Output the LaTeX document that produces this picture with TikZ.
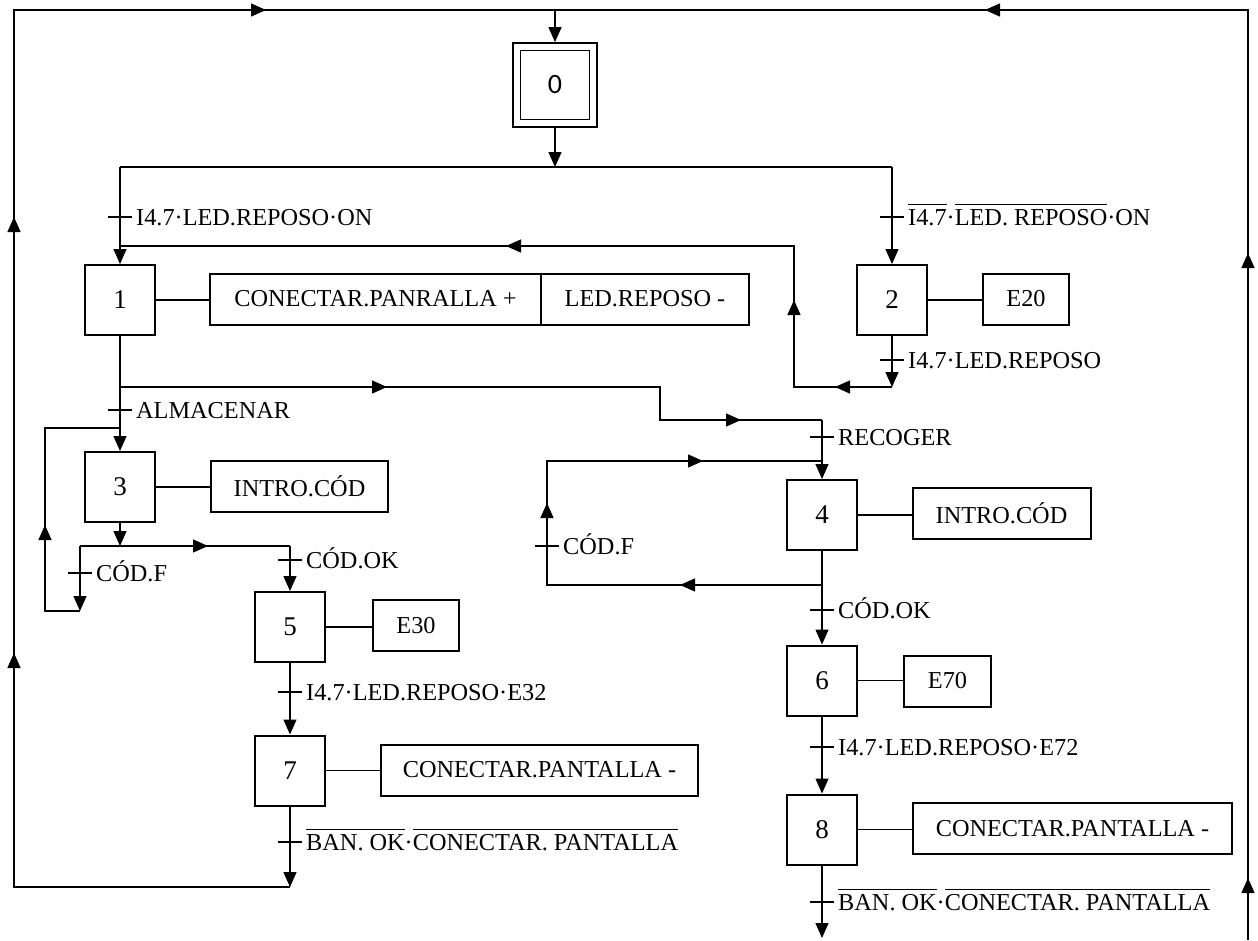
\documentclass[tikz,border=0pt]{standalone}
\usepackage{fontspec}
\setmainfont{Liberation Serif}
\newfontfamily\zerofont{Carlito}
\usetikzlibrary{arrows.meta,decorations.markings,calc}

\newcommand\ovl[1]{\vbox{\hrule height 0.9pt\kern 4pt\hbox{#1}}}

\tikzset{
  >={Triangle[length=15pt,width=13pt]},
  conn/.style={line width=1.3pt},
  stepbox/.style={draw, line width=2pt, minimum width=70pt, minimum height=70pt, inner sep=0pt, font=\fontsize{27}{31}\selectfont},
  actbox/.style={draw, line width=2pt, minimum height=51pt, inner sep=0pt, font=\fontsize{24.3}{28}\selectfont},
  lbl/.style={anchor=base west, inner sep=0pt, font=\fontsize{24.3}{28}\selectfont},
  tickline/.style={line width=1.3pt},
  arrowat/.style={postaction={decorate,decoration={markings,mark=at position #1 with {\arrow{>}}}}},
}

\newcommand\trans[4]{%
  \coordinate (#1) at (#2,#3);
  \draw[tickline] ($(#1)+(-12,0)$) -- ($(#1)+(12,0)$);
  \node[lbl] (#1l) at ($(#1)+(16,8)$) {#4};}

\begin{document}
\begin{tikzpicture}[x=1pt,y=-1pt]
\fill[white] (0,0) rectangle (1258,940);
\useasboundingbox (0,0) rectangle (1258,940);

% steps
\node[draw, line width=1.8pt, minimum size=84pt, inner sep=0pt] (s0) at (555,85) {};
\node[draw, line width=1.8pt, minimum size=69pt, inner sep=0pt, font=\zerofont\fontsize{28}{32}\selectfont] (s0i) at (s0.center) {0};
\node[stepbox] (s1) at (120,300) {1};
\node[stepbox] (s2) at (892,300) {2};
\node[stepbox] (s3) at (120,487) {3};
\node[stepbox] (s4) at (822,515) {4};
\node[stepbox] (s5) at (290,627) {5};
\node[stepbox] (s6) at (822,680.5) {6};
\node[stepbox] (s7) at (290,770.5) {7};
\node[stepbox] (s8) at (822,829.5) {8};

% actions
\node[actbox, minimum width=331pt] (a1a) at (375.5,299) {CONECTAR.PANRALLA +};
\node[actbox, minimum width=208pt] (a1b) at (645,299) {LED.REPOSO -};
\node[actbox, minimum width=86pt] (a2) at (1026,299) {E20};
\node[actbox, minimum width=177pt] (a3) at (299.5,486.5) {INTRO.CÓD};
\node[actbox, minimum width=178pt] (a4) at (1001.5,513.5) {INTRO.CÓD};
\node[actbox, minimum width=86pt] (a5) at (416,625.5) {E30};
\node[actbox, minimum width=87pt] (a6) at (947.5,681) {E70};
\node[actbox, minimum width=317pt] (a7) at (539.5,770) {CONECTAR.PANTALLA -};
\node[actbox, minimum width=319pt] (a8) at (1072.5,828.5) {CONECTAR.PANTALLA -};

\draw[conn] (s1.east) -- (s1.east -| a1a.west);
\draw[conn] (s2.east) -- (s2.east -| a2.west);
\draw[conn] (s3.east) -- (s3.east -| a3.west);
\draw[conn] (s4.east) -- (s4.east -| a4.west);
\draw[conn] (s5.east) -- (s5.east -| a5.west);
\draw[conn] (s6.east) -- (s6.east -| a6.west);
\draw[conn] (s7.east) -- (s7.east -| a7.west);
\draw[conn] (s8.east) -- (s8.east -| a8.west);

% outer loops
\coordinate (TL) at (14,10);
\coordinate (T0) at (555,10);
\coordinate (TR) at (1248,10);
\coordinate (BL) at (14,887);
\coordinate (J7) at (290,887);
\coordinate (BR) at (1248,940);

\draw[conn,->] (s7.south) -- (J7);
\trans{t7}{290}{842}{\ovl{BAN. OK}·\ovl{CONECTAR. PANTALLA}}
\draw[conn, arrowat=510pt, arrowat=946pt, arrowat=1405pt] (J7) -- (BL) -- (TL) -- (T0);
\draw[conn,->] (T0) -- (s0.north);
\draw[conn, arrowat=62pt, arrowat=687pt, arrowat=1193pt] (BR) -- (TR) -- (T0);

% divergence after step 0
\coordinate (D0) at (555,167);
\coordinate (D1) at (120,167);
\coordinate (D2) at (892,167);
\draw[conn,->] (s0.south) -- (D0);
\draw[conn] (D1) -- (D2);
\draw[conn,->] (D1) -- (s1.north);
\trans{t1}{120}{217}{I4.7·LED.REPOSO·ON}
\draw[conn,->] (D2) -- (s2.north);
\trans{t2}{892}{217}{\ovl{I4.7}·\ovl{LED. REPOSO}·ON}

% return from step 2 to step 1
\coordinate (L2a) at (892,387);
\coordinate (L2b) at (794,387);
\coordinate (L2c) at (794,246);
\coordinate (L2d) at (120,246);
\draw[conn,->] (s2.south) -- (L2a);
\trans{t2b}{892}{360}{I4.7·LED.REPOSO}
\draw[conn, arrowat=57pt, arrowat=185pt, arrowat=527pt] (L2a) -- (L2b) -- (L2c) -- (L2d);

% branches after step 1
\draw[conn,->] (s1.south) -- (s3.north);
\trans{t3}{120}{410}{ALMACENAR}
\coordinate (J1) at (120,387);
\coordinate (J1b) at (660,387);
\coordinate (J1c) at (660,420);
\coordinate (J1d) at (822,420);
\draw[conn, arrowat=267pt, arrowat=654pt] (J1) -- (J1b) -- (J1c) -- (J1d);
\draw[conn,->] (J1d) -- (s4.north);
\trans{t4}{822}{437}{RECOGER}

% step 3 branches
\coordinate (P3a) at (80,611);
\coordinate (P3b) at (45,611);
\coordinate (P3c) at (45,428);
\coordinate (P3d) at (120,428);
\coordinate (Q3) at (120,546);
\coordinate (Q3a) at (80,546);
\coordinate (Q3b) at (290,546);
\draw[conn,->] (s3.south) -- (Q3);
\draw[conn, arrowat=128pt] (Q3a) -- (Q3b);
\draw[conn,->] (Q3a) -- (P3a);
\trans{t3f}{80}{573}{CÓD.F}
\draw[conn, arrowat=121pt] (P3a) -- (P3b) -- (P3c) -- (P3d);
\draw[conn,->] (Q3b) -- (s5.north);
\trans{t5}{290}{560}{CÓD.OK}

\draw[conn,->] (s5.south) -- (s7.north);
\trans{t7a}{290}{692}{I4.7·LED.REPOSO·E32}

% step 4 branches
\coordinate (R4a) at (822,585);
\coordinate (R4b) at (547,585);
\coordinate (R4c) at (547,461);
\coordinate (R4d) at (822,461);
\draw[conn,->] (s4.south) -- (s6.north);
\trans{t6}{822}{610}{CÓD.OK}
\draw[conn, arrowat=142pt, arrowat=357pt, arrowat=555pt] (R4a) -- (R4b) -- (R4c) -- (R4d);
\trans{t4f}{547}{546}{CÓD.F}

\draw[conn,->] (s6.south) -- (s8.north);
\trans{t8a}{822}{747}{I4.7·LED.REPOSO·E72}
\coordinate (E8) at (822,938);
\draw[conn,->] (s8.south) -- (E8);
\trans{t8}{822}{902}{\ovl{BAN. OK}·\ovl{CONECTAR. PANTALLA}}
\end{tikzpicture}
\end{document}
